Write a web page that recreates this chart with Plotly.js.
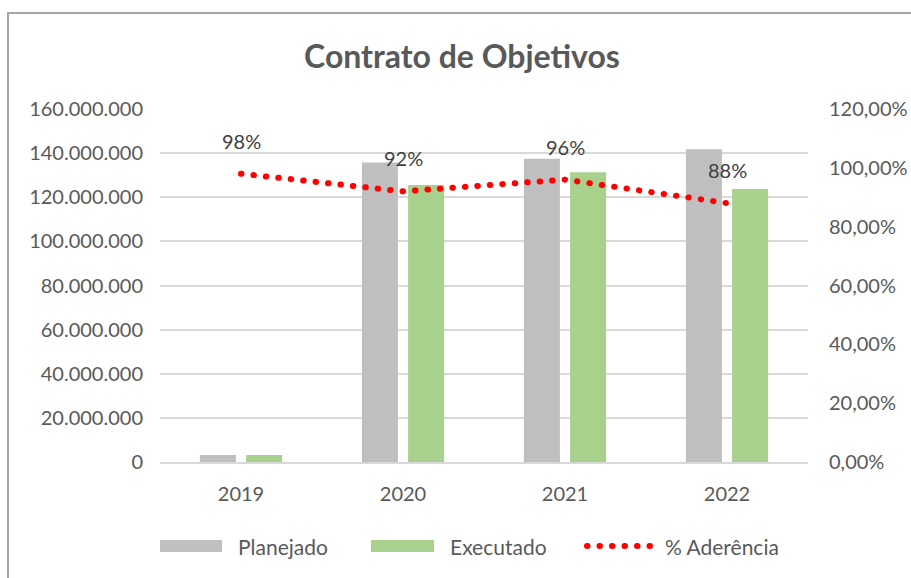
<!DOCTYPE html>
<html>
<head>
<meta charset="utf-8">
<script src="https://cdn.plot.ly/plotly-3.0.1.min.js"></script>
<style>
  html, body { margin: 0; padding: 0; background: #fff; }
  #wrap { position: relative; width: 911px; height: 578px; }
  #chart { position: absolute; left: 0; top: 0; width: 911px; height: 578px; }
  #frame { position: absolute; left: 7px; top: 12px; width: 904px; height: 566px;
           border-top: 2px solid #a6a6a6; border-left: 2px solid #a6a6a6; pointer-events: none; }
</style>
</head>
<body>
<div id="wrap">
  <div id="chart"></div>
  <div id="frame"></div>
</div>
<script>
// ---- data ----
const categories = ['2019', '2020', '2021', '2022'];
const planejado  = [3200000, 135800000, 137500000, 141700000];
const executado  = [3200000, 125600000, 131300000, 123700000];
const aderencia  = [0.98, 0.92, 0.96, 0.88];
const seriesNames = ['Planejado', 'Executado', '% Aderência'];
const chartTitle = 'Contrato de Objetivos';

// ---- style ----
const FONT = 'Lato, "Open Sans", sans-serif';
const GRAY = '#bfbfbf', GREEN = '#a9d18e', RED = '#ff0000';
const TXT = '#595959';
const FS = 20;

const W = 911, H = 578;
const L = 160, R = 808, T = 109, B = 462;
const px2x = p => (p - L) / (R - L);
const px2y = p => (B - p) / (B - T);

const traces = [
  { type: 'bar', name: seriesNames[0], x: categories, y: planejado,
    marker: { color: GRAY }, showlegend: false, hoverinfo: 'skip' },
  { type: 'bar', name: seriesNames[1], x: categories, y: executado,
    marker: { color: GREEN }, showlegend: false, hoverinfo: 'skip' },
  { type: 'scatter', mode: 'lines', name: seriesNames[2], x: categories, y: aderencia,
    yaxis: 'y2', line: { color: RED, width: 6, dash: '0.5px,12px' },
    showlegend: false, hoverinfo: 'skip' }
];

const annotations = categories.map((c, i) => ({
  x: i, y: aderencia[i], xref: 'x', yref: 'y2',
  text: Math.round(aderencia[i] * 100) + '%',
  showarrow: false, yshift: 33,
  font: { family: FONT, size: FS, color: '#404040' }
}));

// custom legend
const legY = 546;
const legItems = [
  { x0: 160, x1: 222, tx: 236, kind: 'rect', color: GRAY },
  { x0: 371, x1: 434, tx: 448, kind: 'rect', color: GREEN },
  { x0: 587, x1: 650, tx: 663, kind: 'dot', color: RED }
];
const shapes = [];
legItems.forEach((it, i) => {
  if (it.kind === 'rect') {
    shapes.push({ type: 'rect', xref: 'paper', yref: 'paper',
      x0: px2x(it.x0), x1: px2x(it.x1), y0: px2y(legY + 6), y1: px2y(legY - 6),
      fillcolor: it.color, line: { width: 0 } });
  } else {
    shapes.push({ type: 'line', xref: 'paper', yref: 'paper',
      x0: px2x(it.x0), x1: px2x(it.x1), y0: px2y(legY), y1: px2y(legY),
      line: { color: it.color, width: 6, dash: '0.5px,12px' } });
  }
  annotations.push({ xref: 'paper', yref: 'paper', x: px2x(it.tx), y: px2y(legY),
    xanchor: 'left', yanchor: 'middle', showarrow: false, text: seriesNames[i],
    font: { family: FONT, size: 21, color: TXT } });
});

const layout = {
  width: W, height: H,
  margin: { l: L, r: W - R, t: T, b: H - B, pad: 0 },
  paper_bgcolor: '#ffffff', plot_bgcolor: '#ffffff',
  separators: ',.',
  font: { family: FONT, size: FS, color: TXT },
  title: { text: chartTitle, xref: 'container', yref: 'container',
    x: 462 / W, y: 1 - 57 / H, xanchor: 'center', yanchor: 'middle',
    font: { family: FONT, size: 32, color: TXT, weight: 'bold' } },
  barmode: 'group', bargap: 0.43, bargroupgap: 0.22,
  xaxis: { type: 'category', range: [-0.5, 3.5], showgrid: false, zeroline: false,
    showline: true, linecolor: '#d9d9d9', linewidth: 2,
    ticks: '', ticklabelstandoff: 13, tickfont: { family: FONT, size: FS, color: TXT } },
  yaxis: { range: [0, 160000000], dtick: 20000000, tickformat: ',.0f',
    showgrid: true, gridcolor: '#d9d9d9', gridwidth: 2, zeroline: false,
    showline: false, ticks: '', ticklabelstandoff: 16,
    tickfont: { family: FONT, size: FS, color: TXT } },
  yaxis2: { overlaying: 'y', side: 'right', range: [0, 1.2], dtick: 0.2,
    tickformat: '.2%', showgrid: false, zeroline: false, showline: false,
    ticks: '', ticklabelstandoff: 20, tickfont: { family: FONT, size: FS, color: TXT } },
  showlegend: false,
  annotations: annotations,
  shapes: shapes
};

Plotly.newPlot('chart', traces, layout, { staticPlot: true, displayModeBar: false }).then(() => {
  document.querySelectorAll('.shapelayer path, .scatterlayer path.js-line').forEach(p => {
    p.style.strokeLinecap = 'round';
  });
});
</script>
</body>
</html>
